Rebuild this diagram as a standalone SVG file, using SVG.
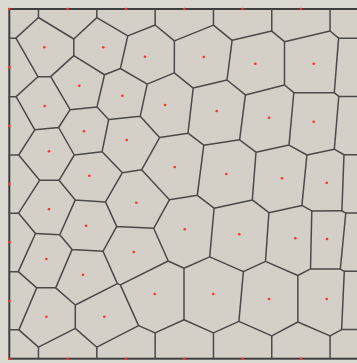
<svg xmlns="http://www.w3.org/2000/svg" width="357" height="363" viewBox="0 0 357 363">
<style>
.edge{fill:none;stroke:#4b4a48;stroke-width:1.5;stroke-linejoin:round;stroke-linecap:round}
.frame{fill:#d4d0c8;stroke:#3f3f3f;stroke-width:2}
.site{fill:#ff3030}
</style>
<rect x="0" y="0" width="357" height="363" fill="#dcd9d2"/>
<g id="frame"><rect class="frame" x="9.3" y="9" width="349.9" height="349.7"/></g>
<g id="edges">
<path class="edge" d="M15.9,38.15 L38.45,17.5 L73.8,39 L96.8,17.6 L127.8,35.9 L155.15,25 L174.4,40.9 L213.45,25.1 L232.1,40.3 L271.75,31.1 L284.5,41.7 L330.05,31 L338.6,38.15 L334.3,92.7 L338.8,96.45 L334.3,149.2 L344,154.75 L341.9,210.8 L345.8,213.05 L340.3,269.1 L344.3,271.35 L341.6,329.6 L330.05,335.9 L297.85,322 L271.75,335.9 L238.9,321.4 L213.45,332.9 L184,319.7 L155.15,332.9 L138.6,325.6 L96.8,347.2 L75.3,328.4 L38.45,347.1 L18.9,329.85 L36.7,287.85 L18.3,271.65 L35.5,233.5 L18.6,213.15 L39.6,180.3 L18.7,155 L34.8,129.8 L16.1,96.65 L37.9,76.7 Z"/>
<path class="edge" d="M73.8,39 L73.8,55.6 L50.7,76.6 L37.9,76.7
M73.8,55.6 L104.5,74.75 L120.4,68.5 L127.8,35.9
M120.4,68.5 L147.2,84.1 L174.3,72.9 L174.4,40.9
M174.3,72.9 L193.2,88.1 L227,80 L232.1,40.3
M227,80 L245.4,94.9 L284.5,85 L284.5,41.7
M284.5,85 L293.8,92.7 L334.3,92.7
M293.8,92.7 L289,145.1 L306.9,155 L334.3,149.2
M245.4,94.9 L239.6,139.8 L256,152.2 L289,145.1
M104.5,74.75 L97,106.9 L70.1,109.7 L50.7,76.6
M70.1,109.7 L58.6,127.5 L34.8,129.8
M97,106.9 L108.7,119.4 L140.2,116.3 L147.2,84.1
M140.2,116.3 L159.6,137.6 L188,133.2 L193.2,88.1
M188,133.2 L203.8,145.2 L239.6,139.8
M108.7,119.4 L102.1,151.7 L74.3,155 L58.6,127.5
M74.3,155 L59,180.3 L39.6,180.3
M159.6,137.6 L141.6,169.8 L122.4,172.7 L102.1,151.7
M141.6,169.8 L169.4,199.8 L197.3,195.3 L203.8,145.2
M197.3,195.3 L214.1,208.2 L252.3,199.9 L256,152.2
M252.3,199.9 L268.9,212.7 L301.9,205.4 L306.9,155
M301.9,205.4 L311.8,210.9 L341.9,210.8
M311.8,210.9 L310.5,268.9 L340.3,269.1
M310.5,268.9 L297.85,275.5 L265.5,261.4 L268.9,212.7
M265.5,261.4 L243.4,271.6 L209.7,256.9 L214.1,208.2
M243.4,271.6 L238.9,321.4
M297.85,275.5 L297.85,322
M209.7,256.9 L184,268.3 L184,319.7
M184,268.3 L168.2,261 L153.7,228.3 L169.4,199.8
M153.7,228.3 L116.7,226.4 L105.5,201.9 L122.4,172.7
M105.5,201.9 L75.3,199.9 L59,180.3
M75.3,199.9 L59.8,234.8 L35.5,233.5
M59.8,234.8 L72.1,249.4 L103,251.3 L116.7,226.4
M103,251.3 L117.4,283.6 L120.3,284.9 L168.2,261
M120.3,284.9 L138.6,325.6
M117.4,283.6 L75.3,305 L75.3,328.4
M75.3,305 L55.7,287.85 L72.1,249.4
M55.7,287.85 L36.7,287.85"/>
<path class="edge" d="M38.45,9 V17.5 M96.8,9 V17.6 M155.15,9 V25 M213.45,9 V25.1 M271.75,9 V31.1 M330.05,9 V31
M9.3,38.15 H15.9 M9.3,96.65 H16.1 M9.3,155 H18.7 M9.3,213.15 H18.6 M9.3,271.65 H18.3 M9.3,329.85 H18.9
M38.45,347.1 V358.7 M96.8,347.2 V358.7 M155.15,332.9 V358.7 M213.45,332.9 V358.7 M271.75,335.9 V358.7 M330.05,335.9 V358.7
M338.6,38.15 H359.2 M338.8,96.45 H359.2 M344,154.75 H359.2 M345.8,213.05 H359.2 M344.3,271.35 H359.2 M341.6,329.6 H359.2"/>
</g>
<g id="sites" class="site">
<circle cx="9.3" cy="9" r="1.3"/><circle cx="67.6" cy="9" r="1.3"/><circle cx="126" cy="9" r="1.3"/><circle cx="184.3" cy="9" r="1.3"/><circle cx="242.6" cy="9" r="1.3"/><circle cx="300.9" cy="9" r="1.3"/>
<circle cx="9.3" cy="67.3" r="1.3"/><circle cx="9.3" cy="126" r="1.3"/><circle cx="9.3" cy="184" r="1.3"/><circle cx="9.3" cy="242.3" r="1.3"/><circle cx="9.3" cy="301" r="1.3"/><circle cx="9.3" cy="358.7" r="1.3"/>
<circle cx="67.6" cy="358.7" r="1.3"/><circle cx="126" cy="358.7" r="1.3"/><circle cx="184.3" cy="358.7" r="1.3"/><circle cx="242.6" cy="358.7" r="1.3"/><circle cx="300.9" cy="358.7" r="1.3"/>
<circle cx="44.3" cy="47.3" r="1.3"/><circle cx="103.3" cy="47.3" r="1.3"/><circle cx="145" cy="56.7" r="1.3"/><circle cx="203.7" cy="57" r="1.3"/><circle cx="255.3" cy="63.7" r="1.3"/><circle cx="313.7" cy="63.7" r="1.3"/>
<circle cx="79.3" cy="85.7" r="1.3"/><circle cx="122.3" cy="95.7" r="1.3"/><circle cx="44.7" cy="106" r="1.3"/><circle cx="165" cy="105" r="1.3"/><circle cx="216.7" cy="111" r="1.3"/><circle cx="269" cy="117.7" r="1.3"/><circle cx="313.7" cy="121.7" r="1.3"/>
<circle cx="84" cy="131.3" r="1.3"/><circle cx="126.7" cy="140" r="1.3"/><circle cx="49" cy="151.3" r="1.3"/><circle cx="174.7" cy="167" r="1.3"/><circle cx="89.3" cy="175.7" r="1.3"/><circle cx="136.3" cy="202.7" r="1.3"/>
<circle cx="49" cy="209.3" r="1.3"/><circle cx="86" cy="225.7" r="1.3"/><circle cx="226.3" cy="174" r="1.3"/><circle cx="282" cy="178.3" r="1.3"/><circle cx="326.7" cy="182.7" r="1.3"/>
<circle cx="184.7" cy="229.3" r="1.3"/><circle cx="239.3" cy="234.3" r="1.3"/><circle cx="295.3" cy="238.3" r="1.3"/><circle cx="327" cy="239" r="1.3"/>
<circle cx="46.3" cy="259" r="1.3"/><circle cx="83" cy="274.7" r="1.3"/><circle cx="133.7" cy="252" r="1.3"/><circle cx="154.7" cy="294" r="1.3"/><circle cx="46.3" cy="316.7" r="1.3"/><circle cx="104.3" cy="316.7" r="1.3"/>
<circle cx="213.3" cy="294" r="1.3"/><circle cx="269" cy="299" r="1.3"/><circle cx="326.7" cy="299" r="1.3"/>
</g>
</svg>
